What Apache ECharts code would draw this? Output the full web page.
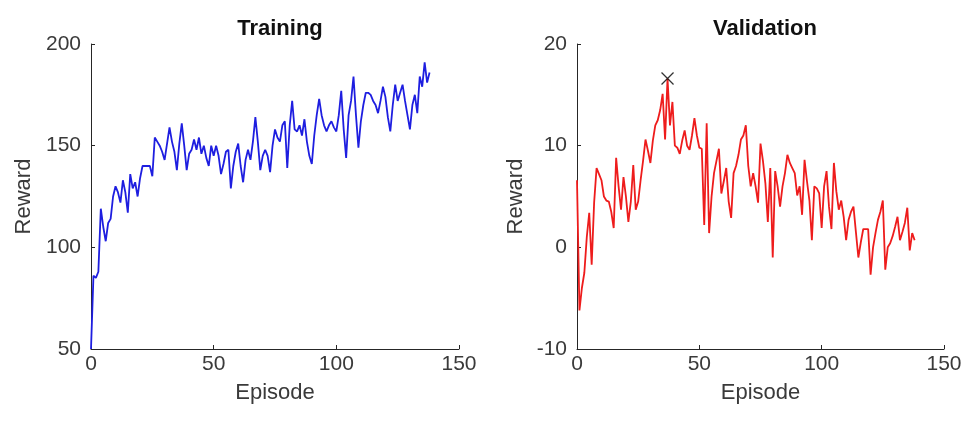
<!DOCTYPE html>
<html>
<head>
<meta charset="utf-8">
<script src="https://cdn.jsdelivr.net/npm/echarts@6/dist/echarts.min.js"></script>
<style>
  html, body { margin: 0; padding: 0; background: #fff; }
  #chart { width: 968px; height: 423px; }
</style>
</head>
<body>
<div id="chart"></div>
<script>
// reward per episode (episodes 0..138)
const trainingReward = [
  50, 86, 85, 88, 119, 110, 103, 112, 114, 125,
  130, 127, 122, 133, 127, 117, 136, 129, 132, 125,
  134, 140, 140, 140, 140, 135, 154, 152, 150, 147,
  143, 151, 159, 152, 147, 138, 151, 161, 150, 138,
  146, 148, 153, 148, 154, 146, 150, 144, 140, 150,
  145, 150, 145, 136, 141, 147, 148, 129, 140, 147,
  151, 140, 132, 143, 148, 143, 152, 164, 152, 138,
  145, 148, 145, 137, 150, 158, 154, 152, 160, 162,
  139, 160, 172, 158, 157, 160, 155, 163, 152, 145,
  141, 155, 165, 173, 165, 160, 157, 160, 162, 159,
  157, 165, 177, 158, 144, 165, 172, 184, 165, 149,
  162, 170, 176, 176, 175, 172, 170, 166, 172, 179,
  174, 164, 157, 170, 180, 172, 176, 180, 172, 165,
  158, 170, 175, 166, 184, 179, 191, 181, 186
];

const validationReward = [
  6.6, -6.2, -4, -2.5, 1, 3.4, -1.7, 4.4, 7.8, 7.2,
  6.6, 5, 4.6, 4.5, 3.5, 1.9, 8.8, 6, 3.7, 6.9,
  5, 2.5, 4.5, 8.1, 3.7, 4.5, 6.6, 8.5, 10.6, 9.5,
  8.3, 10.5, 12, 12.5, 13.5, 15.1, 10.6, 16.6, 12, 14.3,
  10, 9.8, 9.2, 10.5, 11.5, 10, 9.6, 11, 12.7, 11,
  9.8, 9.7, 2.2, 12.2, 1.4, 5, 7.3, 8.5, 9.7, 5.3,
  6.5, 7.8, 4.5, 2.9, 7.3, 8, 9.1, 10.6, 11, 12,
  8, 6, 7.3, 6, 4.4, 10.2, 8.5, 6.3, 2.5, 7.8,
  -1, 7.5, 6, 4, 6, 7.3, 9.1, 8.3, 7.8, 7.3,
  5.1, 6, 3.2, 8.6, 6.5, 4.6, 0.7, 6, 5.8, 5.3,
  1.9, 6, 7.5, 4, 1.8, 8.3, 5.5, 3.7, 4.6, 3,
  0.7, 2.7, 3.5, 4, 1.5, -1, 0.5, 1.8, 1.8, 1.8,
  -2.7, 0, 1.4, 2.7, 3.5, 4.6, -2.2, 0, 0.4, 1.1,
  2, 3, 0.7, 1.5, 2.4, 3.9, -0.3, 1.4, 0.7
];

const episodeTicks = [0, 50, 100, 150];
const trainingTicks = [50, 100, 150, 200];
const validationTicks = [-10, 0, 10, 20];

const titles = ['Training', 'Validation'];

const FONT = "'Liberation Sans', Arial, sans-serif";
const AXIS_COLOR = '#262626';
const TEXT_COLOR = '#3a3a3a';

let toPairs = arr => arr.map((v, i) => [i, v]);

// best validation episode gets the cross
let bestIdx = 0;
validationReward.forEach((v, i) => {
  if (v > validationReward[bestIdx]) bestIdx = i;
});

let xAxisOf = (gridIndex) => ({
  type: 'value',
  gridIndex: gridIndex,
  min: episodeTicks[0],
  max: episodeTicks[episodeTicks.length - 1],
  interval: 50,
  name: 'Episode',
  nameLocation: 'middle',
  nameGap: 33,
  nameTextStyle: {color: TEXT_COLOR, fontFamily: FONT, fontSize: 22},
  axisLine: {onZero: false, lineStyle: {color: AXIS_COLOR, width: 1}},
  axisTick: {inside: true, length: 4, lineStyle: {color: AXIS_COLOR}},
  axisLabel: {color: TEXT_COLOR, fontFamily: FONT, fontSize: 21, margin: 5},
  splitLine: {show: false}
});

let yAxisOf = (gridIndex, ticks) => ({
  type: 'value',
  gridIndex: gridIndex,
  min: ticks[0],
  max: ticks[ticks.length - 1],
  interval: ticks[1] - ticks[0],
  name: 'Reward',
  nameLocation: 'middle',
  nameGap: gridIndex === 0 ? 56 : 50,
  nameTextStyle: {color: TEXT_COLOR, fontFamily: FONT, fontSize: 22},
  axisLine: {show: true, lineStyle: {color: AXIS_COLOR, width: 1}},
  axisTick: {show: true, inside: true, length: 4, lineStyle: {color: AXIS_COLOR}},
  axisLabel: {color: TEXT_COLOR, fontFamily: FONT, fontSize: 21, margin: 10},
  splitLine: {show: false}
});

let chart = echarts.init(document.getElementById('chart'));

let option = {
  animation: false,
  backgroundColor: '#fff',
  title: [
    {
      text: titles[0], left: 275, top: 13, textAlign: 'center',
      textStyle: {fontFamily: FONT, fontSize: 22, fontWeight: 'bold', color: '#111'}
    },
    {
      text: titles[1], left: 760, top: 13, textAlign: 'center',
      textStyle: {fontFamily: FONT, fontSize: 22, fontWeight: 'bold', color: '#111'}
    }
  ],
  grid: [
    {left: 91, right: 509, top: 44, bottom: 74},
    {left: 577, right: 24, top: 44, bottom: 74}
  ],
  xAxis: [xAxisOf(0), xAxisOf(1)],
  yAxis: [yAxisOf(0, trainingTicks), yAxisOf(1, validationTicks)],
  series: [
    {
      type: 'line',
      xAxisIndex: 0,
      yAxisIndex: 0,
      data: toPairs(trainingReward),
      showSymbol: false,
      lineStyle: {color: '#1e1ee0', width: 1.8},
      z: 3
    },
    {
      type: 'line',
      xAxisIndex: 1,
      yAxisIndex: 1,
      data: toPairs(validationReward),
      showSymbol: false,
      lineStyle: {color: '#ee1c1c', width: 1.8},
      z: 3
    },
    {
      type: 'scatter',
      xAxisIndex: 1,
      yAxisIndex: 1,
      data: [[bestIdx, validationReward[bestIdx]]],
      symbol: 'path://M0,0L10,10M10,0L0,10',
      symbolSize: 12,
      itemStyle: {color: 'none', borderColor: '#000', borderWidth: 1.3},
      z: 4
    }
  ]
};

chart.setOption(option);
</script>
</body>
</html>
